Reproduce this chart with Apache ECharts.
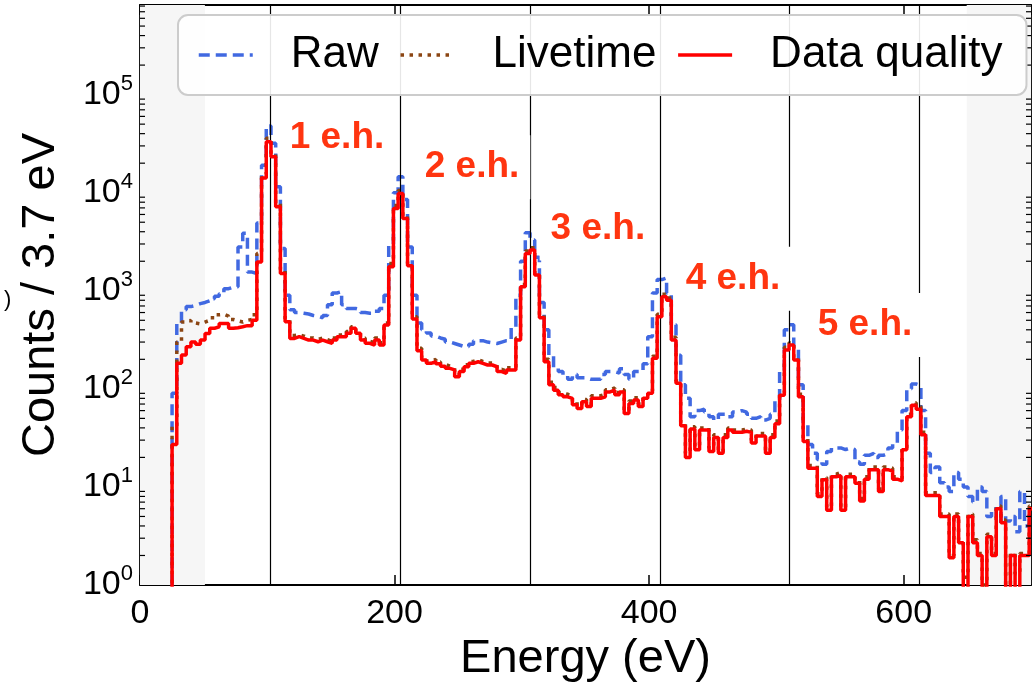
<!DOCTYPE html>
<html>
<head>
<meta charset="utf-8">
<script src="https://cdn.jsdelivr.net/npm/echarts@6/dist/echarts.min.js"></script>
<style>
  html, body { margin: 0; padding: 0; background: #ffffff; }
  #chart { width: 1032px; height: 685px; }
</style>
</head>
<body>
<div id="chart"></div>
<script>
// Histogram binning (eV)
const binStart = 25.2;
const binWidth = 3.7;

// Counts per 3.7 eV bin, starting at binStart
const rawCounts = [
  90, 480, 640, 690, 710, 740, 760, 790, 830, 880,
  930, 1050, 1090, 1100, 2800, 3850, 1550, 1500, 4900, 19000,
  48000, 32000, 11500, 2700, 900, 640, 600, 590, 580, 560,
  550, 530, 560, 720, 950, 980, 720, 660, 660, 640,
  600, 590, 590, 620, 660, 900, 3000, 10000, 14500, 8500,
  2800, 900, 470, 400, 370, 345, 330, 320, 300, 290,
  280, 270, 270, 285, 310, 310, 300, 295, 290, 300,
  310, 310, 420, 900, 2000, 3900, 3300, 2200, 760, 400,
  220, 165, 150, 135, 125, 140, 130, 130, 125, 125,
  125, 140, 150, 150, 145, 160, 140, 125, 150, 150,
  180, 340, 950, 1300, 1350, 950, 450, 220, 110, 80,
  52, 60, 62, 58, 52, 48, 55, 55, 52, 58,
  60, 58, 55, 50, 52, 48, 50, 55, 75, 150,
  400, 450, 260, 110, 45, 27, 22, 19, 17, 23,
  25, 25, 24, 25, 24, 18, 17, 21, 22, 20,
  21, 22, 25, 28, 38, 60, 100, 112, 108, 60,
  22, 14, 16, 11, 10, 9, 14, 12, 10, 8,
  7, 10, 9, 5, 6, 4.5, 8, 4.5, 5, 3.5,
  9, 4, 5
];

const livetimeCounts = [
  42, 300, 480, 500, 470, 460, 480, 500, 530, 570,
  575, 550, 510, 495, 480, 500, 510, 570, 2400, 15500,
  36000, 25000, 7800, 1650, 520, 350, 355, 345, 330, 330,
  320, 330, 318, 305, 330, 355, 360, 385, 430, 385,
  330, 305, 295, 330, 295, 470, 1900, 7400, 10500, 5800,
  1900, 545, 260, 207, 192, 200, 188, 178, 170, 164,
  140, 158, 176, 190, 198, 190, 184, 184, 176, 158,
  152, 164, 164, 330, 1160, 2550, 2750, 1530, 560, 200,
  117, 103, 92, 88, 85, 73, 67, 78, 70, 85,
  85, 88, 98, 102, 92, 98, 60, 75, 81, 70,
  85, 95, 215, 575, 920, 845, 335, 120, 45, 22,
  41, 26, 40, 40, 25, 34, 23, 34, 40, 38,
  38, 39, 38, 30, 35, 35, 23, 34, 47, 91,
  265, 295, 208, 88, 31, 16.5, 16.5, 8.5, 12.5, 6.2,
  13.5, 14, 6.2, 13.5, 13.5, 11.5, 7.6, 12.7, 16, 16,
  9.5, 16, 15.5, 12.7, 12.2, 25, 55, 72, 66, 36,
  8.7, 8.7, 8.7, 5.3, 5.3, 2, 5.3, 2.9, 1.2, 5.3,
  2.9, 2.1, 1, 3.3, 2.1, 6.4, 4.6, 1, 2.1, 1.3,
  2.1, 2.1, 6.4
];

const qualityCounts = [
  27, 182, 221, 269, 300, 285, 314, 366, 414, 430,
  464, 464, 414, 420, 430, 441, 441, 502, 1970, 14100,
  33000, 23200, 7200, 1500, 483, 327, 340, 327, 314, 314,
  302, 314, 302, 291, 314, 340, 340, 368, 414, 368,
  314, 291, 280, 314, 280, 447, 1760, 6920, 9840, 5470,
  1800, 515, 245, 197, 182, 190, 180, 170, 162, 156,
  133, 150, 168, 182, 189, 182, 175, 175, 168, 150,
  144, 156, 156, 315, 1100, 2400, 2600, 1450, 530, 189,
  110, 97, 87, 83, 80, 69, 63, 74, 66, 80,
  80, 83, 93, 97, 87, 93, 56, 71, 77, 66,
  80, 90, 205, 543, 870, 800, 315, 114, 42, 20,
  39, 24, 38, 38, 23, 32, 22, 32, 38, 36,
  36, 37, 36, 28, 33, 33, 22, 32, 44, 86,
  249, 280, 197, 83, 29, 15.5, 15.5, 8, 11.8, 5.8,
  12.7, 13, 5.8, 12.7, 12.7, 10.9, 7.2, 12, 15, 15,
  9, 15, 14.5, 12, 11.5, 24, 52, 68, 62, 34,
  8.2, 8.2, 8.2, 5, 5, 1.9, 5, 2.7, 0, 5,
  2.7, 2, 0, 3.1, 2, 6, 4.3, 0, 2, 0,
  2, 2, 6
];

// Electron-hole pair peak positions (eV) and their labels
const ehPositions = [102.4, 204.5, 306.3, 408.4, 510.2, 612.4];
const ehLabels = ['1 e.h.', '2 e.h.', '3 e.h.', '4 e.h.', '5 e.h.'];
const ehLabelX = [117.6, 223.7, 322.6, 428.7, 532.4];
const ehLabelY = [36500, 18200, 4310, 1330, 447];

// Energy ranges outside the analysis window
const excludedRanges = [[0, 51], [649.5, 700]];

const X_MIN = 0, X_MAX = 700, X_STEP = 200;
const Y_MIN = 1, Y_MAX = 8.2e5;
const FONT = "'Liberation Sans', Arial, Helvetica, sans-serif";
const EMPTY_BIN = 0.5; // empty bins fall below the log axis floor

// Step outline points for a histogram: a point at every bin's left edge
function stepPoints(counts) {
  const pts = [[binStart - binWidth, EMPTY_BIN]];
  counts.forEach((c, i) => pts.push([binStart + i * binWidth, c > 0 ? c : EMPTY_BIN]));
  const last = counts[counts.length - 1];
  pts.push([binStart + counts.length * binWidth, last > 0 ? last : EMPTY_BIN]);
  return pts;
}

// Minor ticks of the log axis: 2..9 x 10^k
const minorTicks = [];
for (let k = 0; k < 6; k++) {
  for (let m = 2; m <= 9; m++) {
    const v = m * Math.pow(10, k);
    if (v < Y_MAX) minorTicks.push([X_MIN, v]);
  }
}

const spine = { show: true, onZero: false, lineStyle: { color: '#000', width: 1.8 } };
const majorTick = { show: true, inside: true, length: 10, lineStyle: { color: '#000', width: 1.5 } };

const chart = echarts.init(document.getElementById('chart'), null, { renderer: 'canvas' });

chart.setOption({
  animation: false,
  backgroundColor: '#ffffff',
  grid: { left: 140, top: 5, right: 1, bottom: 100, containLabel: false, outerBoundsMode: 'none' },
  legend: {
    data: ['Raw', 'Livetime', 'Data quality'],
    left: 178, top: 15, z: 20,
    width: 900,
    orient: 'horizontal',
    padding: [16, 24, 16, 19],
    itemGap: 20,
    itemWidth: 54,
    itemHeight: 20,
    selectedMode: false,
    backgroundColor: 'rgba(255,255,255,0.9)',
    borderColor: '#cccccc',
    borderWidth: 2,
    borderRadius: 10,
    itemStyle: { opacity: 0 },
    lineStyle: { width: 3.5 },
    textStyle: { fontFamily: FONT, fontSize: 44, color: '#000', padding: [0, 0, 0, 33], lineHeight: 48 }
  },
  graphic: [
    { type: 'text', left: 4, top: 289, silent: true,
      style: { text: ')', font: '22px ' + FONT, fill: '#000' } }
  ],
  xAxis: [
    {
      type: 'value', min: X_MIN, max: X_MAX, interval: X_STEP, position: 'bottom',
      axisLine: spine, axisTick: majorTick,
      axisLabel: { fontFamily: FONT, fontSize: 34, color: '#000', margin: 12, showMaxLabel: false },
      splitLine: { show: false },
      name: 'Energy (eV)', nameLocation: 'middle', nameGap: 36,
      nameTextStyle: { fontFamily: FONT, fontSize: 47, color: '#000' }
    },
    {
      type: 'value', min: X_MIN, max: X_MAX, interval: X_STEP, position: 'top',
      axisLine: spine, axisTick: majorTick, axisLabel: { show: false }, splitLine: { show: false }
    }
  ],
  yAxis: [
    {
      type: 'log', logBase: 10, min: Y_MIN, max: Y_MAX, position: 'left',
      axisLine: spine, axisTick: majorTick,
      axisLabel: {
        margin: 7, showMaxLabel: false,
        formatter: v => '{b|10}{s|' + Math.round(Math.log10(v)) + '}',
        rich: {
          b: { fontFamily: FONT, fontSize: 34, lineHeight: 44, color: '#000' },
          s: { fontFamily: FONT, fontSize: 22, lineHeight: 22, color: '#000', verticalAlign: 'top' }
        }
      },
      splitLine: { show: false },
      name: 'Counts / 3.7 eV', nameLocation: 'middle', nameGap: 75,
      nameTextStyle: { fontFamily: FONT, fontSize: 47, color: '#000' }
    },
    {
      type: 'log', logBase: 10, min: Y_MIN, max: Y_MAX, position: 'right',
      axisLine: spine, axisTick: majorTick, axisLabel: { show: false }, splitLine: { show: false }
    }
  ],
  series: [
    {
      // shaded energy ranges
      type: 'line', data: [], z: 1, silent: true,
      markArea: {
        silent: true,
        itemStyle: { color: '#f6f6f6' },
        data: excludedRanges.map(r => [{ xAxis: r[0] }, { xAxis: r[1] }])
      }
    },
    {
      name: 'Raw', type: 'line', step: 'end', symbol: 'none', z: 3,
      data: stepPoints(rawCounts),
      itemStyle: { color: '#4169e1' },
      lineStyle: { color: '#4169e1', width: 3.5, type: [11, 6], cap: 'butt' }
    },
    {
      name: 'Livetime', type: 'line', step: 'end', symbol: 'none', z: 4,
      data: stepPoints(livetimeCounts),
      itemStyle: { color: '#8b4513' },
      lineStyle: { color: '#8b4513', width: 3.5, type: [3.5, 5.5], cap: 'butt' }
    },
    {
      name: 'Data quality', type: 'line', step: 'end', symbol: 'none', z: 5,
      data: stepPoints(qualityCounts),
      itemStyle: { color: '#ff0000' },
      lineStyle: { color: '#ff0000', width: 3.5 }
    },
    {
      // e.h. peak markers
      type: 'line', data: [], z: 6, silent: true,
      markLine: {
        silent: true, symbol: ['none', 'none'],
        label: { show: false },
        lineStyle: { color: '#000', width: 1.2, type: 'solid' },
        data: ehPositions.map(x => ({ xAxis: x }))
      }
    },
    {
      // peak labels on white boxes
      type: 'custom', z: 7, silent: true,
      data: ehLabels.map((t, i) => [ehLabelX[i], ehLabelY[i]]),
      renderItem: (params, api) => {
        const p = api.coord([api.value(0), api.value(1)]);
        return {
          type: 'text', x: p[0] - 11, y: p[1],
          style: {
            text: ehLabels[params.dataIndex],
            fill: '#ff3510',
            font: 'bold 37px ' + FONT,
            lineHeight: 40,
            backgroundColor: '#ffffff',
            padding: [12, 11, 12, 11],
            textAlign: 'left', textVerticalAlign: 'middle'
          }
        };
      }
    },
    {
      type: 'custom', z: 8, silent: true,
      data: minorTicks,
      renderItem: (params, api) => {
        const v = api.value(1);
        const l = api.coord([X_MIN, v]);
        const r = api.coord([X_MAX, v]);
        const st = { stroke: '#000', lineWidth: 1.2 };
        return {
          type: 'group',
          children: [
            { type: 'line', shape: { x1: l[0], y1: l[1], x2: l[0] + 5, y2: l[1] }, style: st },
            { type: 'line', shape: { x1: r[0], y1: r[1], x2: r[0] - 5, y2: r[1] }, style: st }
          ]
        };
      }
    }
  ]
});
</script>
</body>
</html>
